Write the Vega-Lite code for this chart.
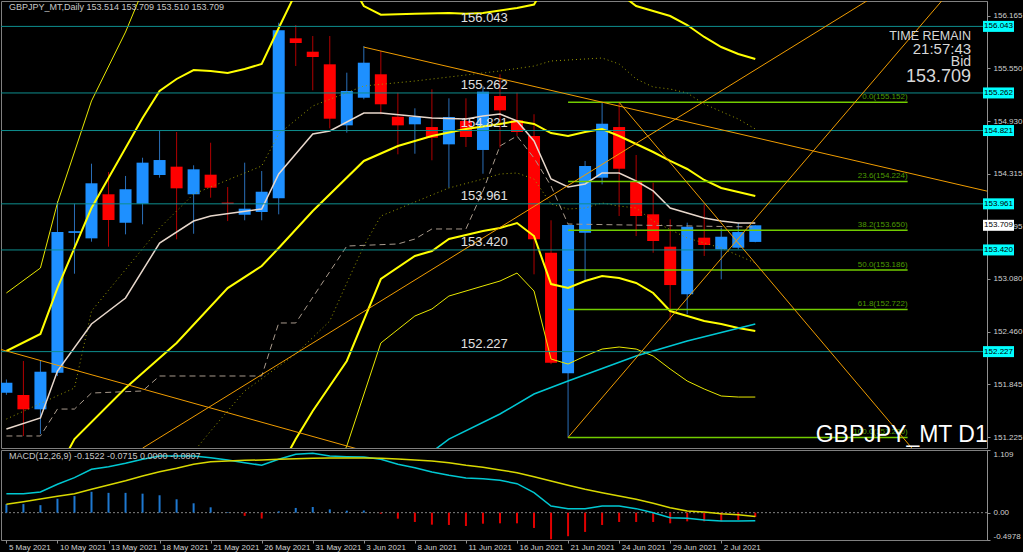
{
"$schema": "https://vega.github.io/schema/vega-lite/v6.json",
"background": "#000000",
"padding": 0,
"spacing": 0,
"config": {"view": {"stroke": "#808080", "strokeWidth": 1}, "text": {"font": "Liberation Sans"}},
"datasets": {
"candles": [
{"i":0,"o":151.745,"h":151.90,"l":151.72,"c":151.862},
{"i":1,"o":151.718,"h":152.117,"l":151.237,"c":151.550},
{"i":2,"o":151.550,"h":152.117,"l":151.260,"c":151.991},
{"i":3,"o":151.979,"h":153.994,"l":151.941,"c":153.630},
{"i":4,"o":153.620,"h":153.962,"l":153.141,"c":153.640},
{"i":5,"o":153.556,"h":154.432,"l":153.517,"c":154.202},
{"i":6,"o":154.073,"h":154.334,"l":153.458,"c":153.771},
{"i":7,"o":153.740,"h":154.288,"l":153.603,"c":154.131},
{"i":8,"o":153.962,"h":154.502,"l":153.721,"c":154.444},
{"i":9,"o":154.299,"h":154.824,"l":154.268,"c":154.475},
{"i":10,"o":154.397,"h":154.804,"l":153.545,"c":154.143},
{"i":11,"o":154.073,"h":154.413,"l":153.610,"c":154.366},
{"i":12,"o":154.303,"h":154.678,"l":154.033,"c":154.150},
{"i":13,"o":153.975,"h":154.158,"l":153.759,"c":153.960},
{"i":14,"o":153.833,"h":154.444,"l":153.768,"c":153.904},
{"i":15,"o":153.865,"h":154.346,"l":153.768,"c":154.103},
{"i":16,"o":154.026,"h":156.086,"l":153.838,"c":155.997},
{"i":17,"o":155.903,"h":156.059,"l":155.578,"c":155.848},
{"i":18,"o":155.746,"h":155.930,"l":155.293,"c":155.684},
{"i":19,"o":155.598,"h":155.930,"l":154.847,"c":154.960},
{"i":20,"o":154.882,"h":155.500,"l":154.796,"c":155.285},
{"i":21,"o":155.206,"h":155.813,"l":155.188,"c":155.617},
{"i":22,"o":155.481,"h":155.754,"l":155.012,"c":155.129},
{"i":23,"o":154.983,"h":155.265,"l":154.542,"c":154.882},
{"i":24,"o":154.894,"h":155.082,"l":154.549,"c":154.980},
{"i":25,"o":154.862,"h":155.305,"l":154.472,"c":154.737},
{"i":26,"o":154.659,"h":155.199,"l":154.150,"c":154.980},
{"i":27,"o":154.933,"h":155.199,"l":154.628,"c":154.745},
{"i":28,"o":154.593,"h":155.344,"l":154.314,"c":155.277},
{"i":29,"o":155.226,"h":155.481,"l":154.620,"c":155.058},
{"i":30,"o":154.941,"h":155.265,"l":154.757,"c":154.804},
{"i":31,"o":154.757,"h":155.012,"l":153.134,"c":153.545},
{"i":32,"o":153.387,"h":153.768,"l":152.080,"c":152.097},
{"i":33,"o":151.972,"h":153.720,"l":151.220,"c":153.713},
{"i":34,"o":153.622,"h":154.464,"l":153.055,"c":154.405},
{"i":35,"o":154.268,"h":155.152,"l":154.190,"c":154.901},
{"i":36,"o":154.862,"h":155.152,"l":153.818,"c":154.373},
{"i":37,"o":154.229,"h":154.534,"l":153.583,"c":153.818},
{"i":38,"o":153.838,"h":154.209,"l":153.387,"c":153.525},
{"i":39,"o":153.458,"h":153.779,"l":152.594,"c":153.008},
{"i":40,"o":152.899,"h":153.740,"l":152.665,"c":153.693},
{"i":41,"o":153.564,"h":153.955,"l":153.349,"c":153.478},
{"i":42,"o":153.427,"h":153.681,"l":153.075,"c":153.575},
{"i":43,"o":153.446,"h":153.740,"l":153.427,"c":153.630},
{"i":44,"o":153.514,"h":153.709,"l":153.510,"c":153.709}
],
"lines": [
{"s":"up3","i":0,"p":152.915},{"s":"up3","i":2,"p":153.208},{"s":"up3","i":3,"p":153.971},{"s":"up3","i":5,"p":155.168},{"s":"up3","i":7,"p":155.977},{"s":"up3","i":8,"p":156.458},{"s":"up3","i":9,"p":156.928},
{"s":"up2","i":0,"p":152.234},{"s":"up2","i":2,"p":152.434},{"s":"up2","i":3,"p":152.973},{"s":"up2","i":4,"p":153.443},{"s":"up2","i":5,"p":153.912},{"s":"up2","i":6,"p":154.264},{"s":"up2","i":7,"p":154.616},{"s":"up2","i":8,"p":154.968},{"s":"up2","i":9,"p":155.285},{"s":"up2","i":10,"p":155.426},{"s":"up2","i":11,"p":155.531},{"s":"up2","i":12,"p":155.520},{"s":"up2","i":13,"p":155.496},{"s":"up2","i":14,"p":155.543},{"s":"up2","i":15,"p":155.602},{"s":"up2","i":16,"p":156.024},{"s":"up2","i":17,"p":156.435},{"s":"up2","i":18,"p":156.693},{"s":"up2","i":20,"p":156.634},{"s":"up2","i":21,"p":156.282},{"s":"up2","i":22,"p":156.180},{"s":"up2","i":24,"p":156.190},{"s":"up2","i":26,"p":156.200},{"s":"up2","i":27,"p":156.190},{"s":"up2","i":28,"p":156.200},{"s":"up2","i":29,"p":156.230},{"s":"up2","i":30,"p":156.260},{"s":"up2","i":31,"p":156.300},{"s":"up2","i":32,"p":156.634},{"s":"up2","i":35,"p":156.634},{"s":"up2","i":36,"p":156.435},{"s":"up2","i":37,"p":156.282},{"s":"up2","i":38,"p":156.224},{"s":"up2","i":39,"p":156.165},{"s":"up2","i":40,"p":156.059},{"s":"up2","i":41,"p":155.919},{"s":"up2","i":42,"p":155.801},{"s":"up2","i":43,"p":155.719},{"s":"up2","i":44,"p":155.660},
{"s":"mid","i":3,"p":150.826},{"s":"mid","i":4,"p":151.201},{"s":"mid","i":7,"p":151.800},{"s":"mid","i":10,"p":152.328},{"s":"mid","i":13,"p":152.973},{"s":"mid","i":15,"p":153.231},{"s":"mid","i":16,"p":153.443},{"s":"mid","i":18,"p":153.877},{"s":"mid","i":21,"p":154.464},{"s":"mid","i":23,"p":154.640},{"s":"mid","i":25,"p":154.757},{"s":"mid","i":27,"p":154.839},{"s":"mid","i":29,"p":154.898},{"s":"mid","i":30,"p":154.933},{"s":"mid","i":31,"p":154.898},{"s":"mid","i":32,"p":154.792},{"s":"mid","i":33,"p":154.757},{"s":"mid","i":34,"p":154.804},{"s":"mid","i":35,"p":154.839},{"s":"mid","i":36,"p":154.757},{"s":"mid","i":37,"p":154.663},{"s":"mid","i":38,"p":154.569},{"s":"mid","i":39,"p":154.464},{"s":"mid","i":40,"p":154.370},{"s":"mid","i":41,"p":154.241},{"s":"mid","i":42,"p":154.147},{"s":"mid","i":43,"p":154.100},{"s":"mid","i":44,"p":154.053},
{"s":"lo2","i":15,"p":150.474},{"s":"lo2","i":17,"p":151.201},{"s":"lo2","i":18,"p":151.530},{"s":"lo2","i":20,"p":152.117},{"s":"lo2","i":22,"p":153.079},{"s":"lo2","i":24,"p":153.349},{"s":"lo2","i":25,"p":153.407},{"s":"lo2","i":26,"p":153.548},{"s":"lo2","i":28,"p":153.642},{"s":"lo2","i":29,"p":153.677},{"s":"lo2","i":30,"p":153.736},{"s":"lo2","i":31,"p":153.583},{"s":"lo2","i":32,"p":153.020},{"s":"lo2","i":33,"p":152.973},{"s":"lo2","i":34,"p":153.055},{"s":"lo2","i":35,"p":153.114},{"s":"lo2","i":36,"p":153.091},{"s":"lo2","i":37,"p":153.032},{"s":"lo2","i":38,"p":152.915},{"s":"lo2","i":39,"p":152.703},{"s":"lo2","i":40,"p":152.645},{"s":"lo2","i":41,"p":152.586},{"s":"lo2","i":42,"p":152.551},{"s":"lo2","i":43,"p":152.504},{"s":"lo2","i":44,"p":152.469},
{"s":"lo3","i":19,"p":150.708},{"s":"lo3","i":20,"p":151.119},{"s":"lo3","i":22,"p":152.328},{"s":"lo3","i":24,"p":152.645},{"s":"lo3","i":25,"p":152.727},{"s":"lo3","i":26,"p":152.879},{"s":"lo3","i":28,"p":152.997},{"s":"lo3","i":29,"p":153.055},{"s":"lo3","i":30,"p":153.149},{"s":"lo3","i":31,"p":152.938},{"s":"lo3","i":32,"p":152.140},{"s":"lo3","i":33,"p":152.081},{"s":"lo3","i":34,"p":152.175},{"s":"lo3","i":35,"p":152.257},{"s":"lo3","i":36,"p":152.281},{"s":"lo3","i":37,"p":152.257},{"s":"lo3","i":38,"p":152.175},{"s":"lo3","i":39,"p":152.023},{"s":"lo3","i":40,"p":151.882},{"s":"lo3","i":41,"p":151.788},{"s":"lo3","i":42,"p":151.706},{"s":"lo3","i":43,"p":151.694},{"s":"lo3","i":44,"p":151.694},
{"s":"wma","i":0,"p":151.319},{"s":"wma","i":2,"p":151.448},{"s":"wma","i":3,"p":151.999},{"s":"wma","i":5,"p":152.551},{"s":"wma","i":7,"p":152.856},{"s":"wma","i":9,"p":153.501},{"s":"wma","i":11,"p":153.759},{"s":"wma","i":12,"p":153.818},{"s":"wma","i":15,"p":153.900},{"s":"wma","i":16,"p":154.311},{"s":"wma","i":18,"p":154.780},{"s":"wma","i":19,"p":154.816},{"s":"wma","i":21,"p":155.027},{"s":"wma","i":22,"p":155.027},{"s":"wma","i":25,"p":154.968},{"s":"wma","i":27,"p":154.956},{"s":"wma","i":28,"p":154.992},{"s":"wma","i":29,"p":155.015},{"s":"wma","i":30,"p":154.933},{"s":"wma","i":31,"p":154.698},{"s":"wma","i":32,"p":154.252},{"s":"wma","i":33,"p":154.159},{"s":"wma","i":34,"p":154.194},{"s":"wma","i":35,"p":154.323},{"s":"wma","i":36,"p":154.323},{"s":"wma","i":37,"p":154.229},{"s":"wma","i":38,"p":154.112},{"s":"wma","i":39,"p":153.912},{"s":"wma","i":40,"p":153.853},{"s":"wma","i":41,"p":153.795},{"s":"wma","i":42,"p":153.759},{"s":"wma","i":43,"p":153.736},{"s":"wma","i":44,"p":153.736},
{"s":"gd","i":0,"p":151.237},{"s":"gd","i":2,"p":151.237},{"s":"gd","i":3,"p":151.553},{"s":"gd","i":4,"p":151.553},{"s":"gd","i":5,"p":151.741},{"s":"gd","i":8,"p":151.765},{"s":"gd","i":9,"p":151.941},{"s":"gd","i":15,"p":151.941},{"s":"gd","i":16,"p":152.563},{"s":"gd","i":17,"p":152.563},{"s":"gd","i":20,"p":153.466},{"s":"gd","i":23,"p":153.490},{"s":"gd","i":24,"p":153.548},{"s":"gd","i":25,"p":153.666},{"s":"gd","i":27,"p":153.666},{"s":"gd","i":28,"p":154.112},{"s":"gd","i":29,"p":154.640},{"s":"gd","i":30,"p":154.757},{"s":"gd","i":31,"p":154.499},{"s":"gd","i":32,"p":154.170},{"s":"gd","i":33,"p":153.724},{"s":"gd","i":44,"p":153.689},
{"s":"d1","i":0,"p":151.436},{"s":"d1","i":4,"p":151.800},{"s":"d1","i":5,"p":152.703},{"s":"d1","i":9,"p":153.677},{"s":"d1","i":11,"p":154.076},{"s":"d1","i":15,"p":154.405},{"s":"d1","i":16,"p":154.780},{"s":"d1","i":18,"p":155.109},{"s":"d1","i":21,"p":155.344},{"s":"d1","i":24,"p":155.402},{"s":"d1","i":29,"p":155.520},{"s":"d1","i":31,"p":155.578},{"s":"d1","i":32,"p":155.637},{"s":"d1","i":35,"p":155.672},{"s":"d1","i":36,"p":155.602},{"s":"d1","i":37,"p":155.426},{"s":"d1","i":38,"p":155.332},{"s":"d1","i":39,"p":155.308},{"s":"d1","i":40,"p":155.261},{"s":"d1","i":41,"p":155.132},{"s":"d1","i":43,"p":154.956},{"s":"d1","i":44,"p":154.839},
{"s":"d2","i":11,"p":151.05},{"s":"d2","i":12,"p":151.295},{"s":"d2","i":14,"p":151.765},{"s":"d2","i":17,"p":152.199},{"s":"d2","i":19,"p":152.586},{"s":"d2","i":20,"p":153.032},{"s":"d2","i":21,"p":153.466},{"s":"d2","i":22,"p":153.818},{"s":"d2","i":26,"p":154.147},{"s":"d2","i":28,"p":154.252},{"s":"d2","i":29,"p":154.311},{"s":"d2","i":30,"p":154.323},{"s":"d2","i":31,"p":154.252},{"s":"d2","i":32,"p":153.959},{"s":"d2","i":33,"p":153.900},{"s":"d2","i":34,"p":153.912},{"s":"d2","i":35,"p":153.971},{"s":"d2","i":36,"p":153.935},{"s":"d2","i":37,"p":153.912},{"s":"d2","i":38,"p":153.759},{"s":"d2","i":40,"p":153.560},{"s":"d2","i":42,"p":153.443},{"s":"d2","i":44,"p":153.267},
{"s":"cy","i":25,"p":151.05},{"s":"cy","i":26,"p":151.201},{"s":"cy","i":29,"p":151.495},{"s":"cy","i":31,"p":151.729},{"s":"cy","i":33,"p":151.882},{"s":"cy","i":37,"p":152.175},{"s":"cy","i":40,"p":152.351},{"s":"cy","i":44,"p":152.551}
],
"trends": [
{"id":"t1","i":21,"p":155.80},{"id":"t1","i":60,"p":154.00},
{"id":"t2","i":-1,"p":152.290},{"id":"t2","i":24,"p":150.897},
{"id":"t3","i":8,"p":151.094},{"id":"t3","i":52,"p":156.52},
{"id":"t4","i":36,"p":155.152},{"id":"t4","i":54,"p":150.906},
{"id":"t5","i":33,"p":151.22},{"id":"t5","i":56,"p":156.586}
],
"levels": [
{"p":156.043,"t":"156.043"},{"p":155.262,"t":"155.262"},{"p":154.821,"t":"154.821"},{"p":153.961,"t":"153.961"},{"p":153.420,"t":"153.420"},{"p":152.227,"t":"152.227"}
],
"fib": [
{"p":155.152,"t":"0.0(155.152)"},{"p":154.224,"t":"23.6(154.224)"},{"p":153.650,"t":"38.2(153.650)"},{"p":153.186,"t":"50.0(153.186)"},{"p":152.722,"t":"61.8(152.722)"},{"p":151.220,"t":"100.0(151.220)"}
],
"macd": [
{"i":0,"m":0.355,"s":0.157,"h":0.16},{"i":1,"m":0.355,"s":0.205,"h":0.16},{"i":2,"m":0.386,"s":0.256,"h":0.14},{"i":3,"m":0.530,"s":0.306,"h":0.26},{"i":4,"m":0.654,"s":0.355,"h":0.31},{"i":5,"m":0.810,"s":0.437,"h":0.39},{"i":6,"m":0.859,"s":0.517,"h":0.37},{"i":7,"m":0.922,"s":0.597,"h":0.37},{"i":8,"m":0.997,"s":0.685,"h":0.355},{"i":9,"m":1.059,"s":0.766,"h":0.325},{"i":10,"m":1.059,"s":0.829,"h":0.25},{"i":11,"m":1.059,"s":0.904,"h":0.175},{"i":12,"m":1.027,"s":0.952,"h":0.10},{"i":13,"m":0.984,"s":0.965,"h":0.01},{"i":14,"m":0.934,"s":0.978,"h":-0.06},{"i":15,"m":0.885,"s":0.984,"h":-0.11},{"i":16,"m":0.997,"s":0.997,"h":0.025},{"i":17,"m":1.090,"s":1.009,"h":0.088},{"i":18,"m":1.109,"s":1.015,"h":0.106},{"i":19,"m":1.059,"s":1.021,"h":0.062},{"i":20,"m":1.046,"s":1.021,"h":0.037},{"i":21,"m":1.040,"s":1.021,"h":0.04},{"i":22,"m":0.997,"s":1.015,"h":-0.02},{"i":23,"m":0.904,"s":1.005,"h":-0.112},{"i":24,"m":0.840,"s":0.984,"h":-0.174},{"i":25,"m":0.760,"s":0.965,"h":-0.224},{"i":26,"m":0.698,"s":0.934,"h":-0.23},{"i":27,"m":0.648,"s":0.885,"h":-0.249},{"i":28,"m":0.635,"s":0.848,"h":-0.206},{"i":29,"m":0.605,"s":0.797,"h":-0.199},{"i":30,"m":0.541,"s":0.747,"h":-0.199},{"i":31,"m":0.373,"s":0.672,"h":-0.286},{"i":32,"m":0.125,"s":0.592,"h":-0.4978},{"i":33,"m":0.075,"s":0.512,"h":-0.44},{"i":34,"m":0.075,"s":0.437,"h":-0.36},{"i":35,"m":0.125,"s":0.373,"h":-0.23},{"i":36,"m":0.125,"s":0.312,"h":-0.174},{"i":37,"m":0.075,"s":0.250,"h":-0.174},{"i":38,"m":0.0,"s":0.175,"h":-0.174},{"i":39,"m":-0.093,"s":0.093,"h":-0.199},{"i":40,"m":-0.105,"s":0.032,"h":-0.162},{"i":41,"m":-0.137,"s":0.012,"h":-0.162},{"i":42,"m":-0.155,"s":-0.019,"h":-0.162},{"i":43,"m":-0.155,"s":-0.037,"h":-0.137},{"i":44,"m":-0.1522,"s":-0.0715,"h":-0.0807}
]
},
"vconcat": [
{
"width": 986, "height": 447,
"layer": [
{"data": {"name": "candles"}, "mark": {"type": "rule", "clip": true, "strokeWidth": 1},
 "encoding": {
  "x": {"field": "i", "type": "quantitative", "scale": {"domain": [-0.023, 57.32], "nice": false, "zero": false}, "axis": null},
  "y": {"field": "l", "type": "quantitative", "scale": {"domain": [151.096, 156.341], "nice": false, "zero": false},
        "axis": {"orient": "right", "title": null, "grid": false, "values": [156.165,155.855,155.55,155.24,154.93,154.62,154.315,154.005,153.695,153.39,153.08,152.77,152.46,152.15,151.845,151.535,151.225], "format": ".3f", "labelColor": "#d0d0d0", "labelFont": "Liberation Sans", "labelFontSize": 8, "tickSize": 3, "tickColor": "#909090", "domainColor": "#909090", "labelPadding": 3}},
  "y2": {"field": "h"},
  "color": {"condition": {"test": "datum.c >= datum.o", "value": "#2a6fb8"}, "value": "#b00000"}
 }},
{"data": {"name": "candles"}, "mark": {"type": "bar", "size": 12, "clip": true},
 "encoding": {
  "x": {"field": "i", "type": "quantitative", "axis": null},
  "y": {"field": "o", "type": "quantitative"},
  "y2": {"field": "c"},
  "color": {"condition": {"test": "datum.c >= datum.o", "value": "#1e90ff"}, "value": "#ff0000"}
 }},
{"data": {"name": "lines"}, "transform": [{"filter": "datum.s == 'up3' || datum.s == 'lo3'"}], "mark": {"type": "line", "clip": true, "strokeWidth": 1, "color": "#e8e800"},
 "encoding": {"x": {"field": "i", "type": "quantitative", "axis": null}, "y": {"field": "p", "type": "quantitative"}, "detail": {"field": "s"}}},
{"data": {"name": "lines"}, "transform": [{"filter": "datum.s == 'up2' || datum.s == 'lo2' || datum.s == 'mid'"}], "mark": {"type": "line", "clip": true, "strokeWidth": 2, "color": "#ffff00"},
 "encoding": {"x": {"field": "i", "type": "quantitative", "axis": null}, "y": {"field": "p", "type": "quantitative"}, "detail": {"field": "s"}}},
{"data": {"name": "lines"}, "transform": [{"filter": "datum.s == 'd1' || datum.s == 'd2'"}], "mark": {"type": "line", "clip": true, "strokeWidth": 1, "color": "#9a9a00", "strokeDash": [1, 3]},
 "encoding": {"x": {"field": "i", "type": "quantitative", "axis": null}, "y": {"field": "p", "type": "quantitative"}, "detail": {"field": "s"}}},
{"data": {"name": "lines"}, "transform": [{"filter": "datum.s == 'gd'"}], "mark": {"type": "line", "clip": true, "strokeWidth": 1, "color": "#a89a8c", "strokeDash": [6, 4]},
 "encoding": {"x": {"field": "i", "type": "quantitative", "axis": null}, "y": {"field": "p", "type": "quantitative"}}},
{"data": {"name": "lines"}, "transform": [{"filter": "datum.s == 'wma'"}], "mark": {"type": "line", "clip": true, "strokeWidth": 1.5, "color": "#e8d8cc"},
 "encoding": {"x": {"field": "i", "type": "quantitative", "axis": null}, "y": {"field": "p", "type": "quantitative"}}},
{"data": {"name": "lines"}, "transform": [{"filter": "datum.s == 'cy'"}], "mark": {"type": "line", "clip": true, "strokeWidth": 1.5, "color": "#00c8d4"},
 "encoding": {"x": {"field": "i", "type": "quantitative", "axis": null}, "y": {"field": "p", "type": "quantitative"}}},
{"data": {"name": "levels"}, "mark": {"type": "rule", "color": "#0e8e8e", "strokeWidth": 1},
 "encoding": {"y": {"field": "p", "type": "quantitative"}}},
{"data": {"name": "fib"}, "mark": {"type": "rule", "color": "#72cc00", "strokeWidth": 1.5},
 "encoding": {"x": {"datum": 33, "type": "quantitative", "axis": null}, "x2": {"datum": 52.95}, "y": {"field": "p", "type": "quantitative"}}},
{"data": {"name": "fib"}, "mark": {"type": "text", "align": "right", "baseline": "bottom", "dy": -1, "fontSize": 8, "color": "#4c9a00"},
 "encoding": {"x": {"datum": 52.95, "type": "quantitative", "axis": null}, "y": {"field": "p", "type": "quantitative"}, "text": {"field": "t"}}},
{"data": {"name": "trends"}, "mark": {"type": "line", "clip": true, "strokeWidth": 1, "color": "#f09c00"},
 "encoding": {"x": {"field": "i", "type": "quantitative", "axis": null}, "y": {"field": "p", "type": "quantitative"}, "detail": {"field": "id"}}},
{"data": {"name": "levels"}, "mark": {"type": "text", "align": "left", "baseline": "middle", "dy": -8, "fontSize": 13, "color": "#e0e0e0"},
 "encoding": {"x": {"datum": 26.7, "type": "quantitative", "axis": null}, "y": {"field": "p", "type": "quantitative"}, "text": {"field": "t"}}},
{"data": {"name": "levels"}, "mark": {"type": "tick", "orient": "horizontal", "size": 31, "thickness": 11, "color": "#00ffff", "opacity": 1},
 "encoding": {"x": {"datum": 58.29, "type": "quantitative", "axis": null}, "y": {"field": "p", "type": "quantitative"}}},
{"data": {"name": "levels"}, "mark": {"type": "text", "align": "center", "baseline": "middle", "fontSize": 8, "color": "#000000"},
 "encoding": {"x": {"datum": 58.29, "type": "quantitative", "axis": null}, "y": {"field": "p", "type": "quantitative"}, "text": {"field": "t"}}},
{"data": {"values": [{}]}, "mark": {"type": "tick", "orient": "horizontal", "size": 31, "thickness": 11, "color": "#ffffff", "opacity": 1},
 "encoding": {"x": {"datum": 58.29, "type": "quantitative", "axis": null}, "y": {"datum": 153.709, "type": "quantitative"}}},
{"data": {"values": [{}]}, "mark": {"type": "text", "align": "center", "baseline": "middle", "fontSize": 8, "color": "#000000"},
 "encoding": {"x": {"datum": 58.29, "type": "quantitative", "axis": null}, "y": {"datum": 153.709, "type": "quantitative"}, "text": {"value": "153.709"}}},
{"data": {"values": [{}]}, "mark": {"type": "text", "align": "left", "baseline": "middle", "fontSize": 9, "color": "#c8c8c8"},
 "encoding": {"x": {"datum": 0.15, "type": "quantitative", "axis": null}, "y": {"datum": 156.271, "type": "quantitative"}, "text": {"value": "GBPJPY_MT,Daily  153.514 153.709 153.510 153.709"}}},
{"data": {"values": [{}]}, "mark": {"type": "text", "align": "right", "baseline": "middle", "fontSize": 12.5, "color": "#d8d8d8"},
 "encoding": {"x": {"datum": 56.68, "type": "quantitative", "axis": null}, "y": {"datum": 155.93, "type": "quantitative"}, "text": {"value": "TIME REMAIN"}}},
{"data": {"values": [{}]}, "mark": {"type": "text", "align": "right", "baseline": "middle", "fontSize": 15, "color": "#d8d8d8"},
 "encoding": {"x": {"datum": 56.68, "type": "quantitative", "axis": null}, "y": {"datum": 155.78, "type": "quantitative"}, "text": {"value": "21:57:43"}}},
{"data": {"values": [{}]}, "mark": {"type": "text", "align": "right", "baseline": "middle", "fontSize": 14, "color": "#d8d8d8"},
 "encoding": {"x": {"datum": 56.68, "type": "quantitative", "axis": null}, "y": {"datum": 155.62, "type": "quantitative"}, "text": {"value": "Bid"}}},
{"data": {"values": [{}]}, "mark": {"type": "text", "align": "right", "baseline": "middle", "fontSize": 18, "color": "#d8d8d8"},
 "encoding": {"x": {"datum": 56.68, "type": "quantitative", "axis": null}, "y": {"datum": 155.45, "type": "quantitative"}, "text": {"value": "153.709"}}},
{"data": {"values": [{}]}, "mark": {"type": "text", "align": "right", "baseline": "bottom", "fontSize": 23, "color": "#ffffff"},
 "encoding": {"x": {"datum": 57.66, "type": "quantitative", "axis": null}, "y": {"datum": 151.11, "type": "quantitative"}, "text": {"value": "GBPJPY_MT D1"}}}
]
},
{
"width": 986, "height": 90,
"layer": [
{"data": {"values": [{}]}, "mark": {"type": "rule", "color": "#808080", "strokeDash": [2, 2]},
 "encoding": {"y": {"datum": 0, "type": "quantitative", "scale": {"domain": [-0.511, 1.171], "nice": false, "zero": false},
   "axis": {"orient": "right", "title": null, "grid": false, "values": [1.171, 0, -0.511], "labelExpr": "datum.value == 0 ? '0.00' : (datum.value > 1 ? '1.109' : '-0.4978')", "labelFlush": true, "labelColor": "#d0d0d0", "labelFont": "Liberation Sans", "labelFontSize": 8, "tickSize": 3, "tickColor": "#909090", "domainColor": "#909090", "labelPadding": 3}}}},
{"data": {"name": "macd"}, "mark": {"type": "bar", "size": 2},
 "encoding": {
  "x": {"field": "i", "type": "quantitative", "scale": {"domain": [-0.023, 57.32], "nice": false, "zero": false},
   "axis": {"orient": "bottom", "title": null, "grid": false, "domain": false, "values": [0,3,6,9,12,15,18,21,24,27,30,33,36,39,42], "labelExpr": "['5 May 2021','10 May 2021','13 May 2021','18 May 2021','21 May 2021','26 May 2021','31 May 2021','3 Jun 2021','8 Jun 2021','11 Jun 2021','16 Jun 2021','21 Jun 2021','24 Jun 2021','29 Jun 2021','2 Jul 2021'][round(datum.value / 3)]", "labelAlign": "left", "labelOffset": 2, "labelColor": "#d0d0d0", "labelFont": "Liberation Sans", "labelFontSize": 8, "tickSize": 3, "tickColor": "#909090", "labelPadding": 0, "labelOverlap": false, "labelFlush": false}},
  "y": {"field": "h", "type": "quantitative"},
  "y2": {"datum": 0},
  "color": {"condition": {"test": "datum.h >= 0", "value": "#1e78d0"}, "value": "#e00000"}
 }},
{"data": {"name": "macd"}, "mark": {"type": "line", "strokeWidth": 1.5, "color": "#00c8d2"},
 "encoding": {"x": {"field": "i", "type": "quantitative"}, "y": {"field": "m", "type": "quantitative"}}},
{"data": {"name": "macd"}, "mark": {"type": "line", "strokeWidth": 1.5, "color": "#d8d800"},
 "encoding": {"x": {"field": "i", "type": "quantitative"}, "y": {"field": "s", "type": "quantitative"}}},
{"data": {"values": [{}]}, "mark": {"type": "text", "align": "left", "baseline": "top", "dy": 2, "fontSize": 9, "color": "#c8c8c8"},
 "encoding": {"x": {"datum": 0.15, "type": "quantitative"}, "y": {"datum": 1.171, "type": "quantitative"}, "text": {"value": "MACD(12,26,9) -0.1522 -0.0715 0.0000 -0.0807"}}}
]
}
]
}
